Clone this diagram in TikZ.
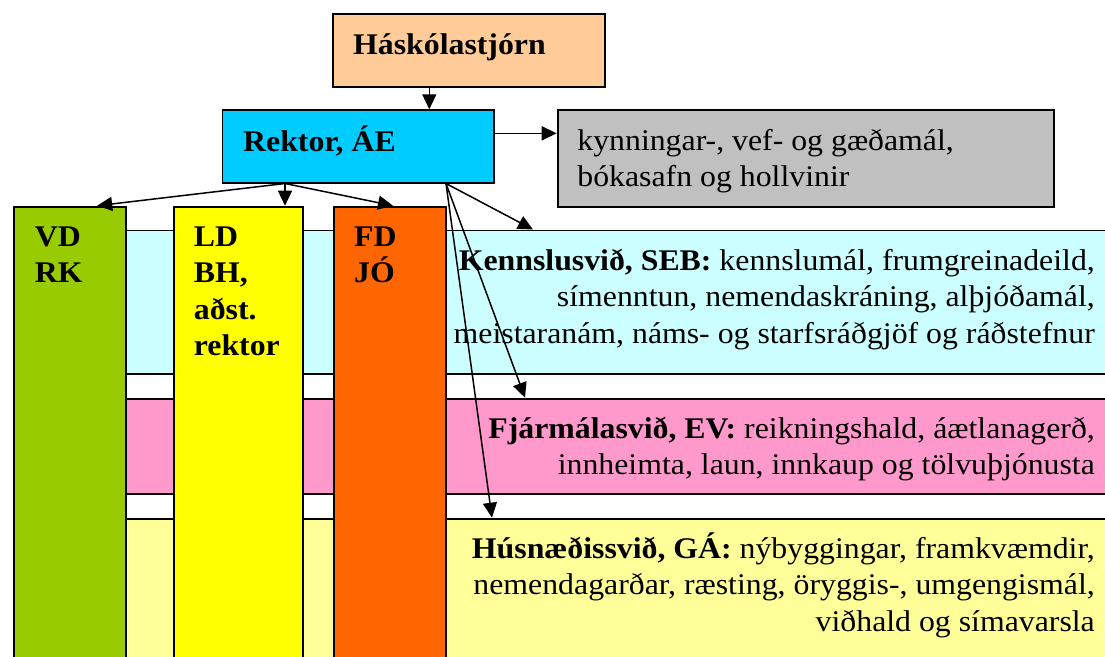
\documentclass[tikz,border=0pt]{standalone}
\usepackage{fontspec}
\setmainfont{Liberation Serif}[FakeStretch=1.06]
\usetikzlibrary{arrows.meta,calc}
\definecolor{peach}{HTML}{FFCC99}
\definecolor{rekcyan}{HTML}{00CCFF}
\definecolor{boxgray}{HTML}{C0C0C0}
\definecolor{colgreen}{HTML}{99CC00}
\definecolor{colyellow}{HTML}{FFFF00}
\definecolor{colorange}{HTML}{FF6600}
\definecolor{bandcyan}{HTML}{CCFFFF}
\definecolor{bandpink}{HTML}{FF99CC}
\definecolor{bandyellow}{HTML}{FFFF99}
\newcommand{\fl}{\rule{0pt}{30pt}}
\begin{document}
\begin{tikzpicture}[x=1pt,y=-1pt,
  box/.style={draw=black, line width=1.8pt, rectangle, inner sep=0pt, anchor=north west},
  txt/.style={inner sep=0pt, font=\fontsize{30}{36.5}\selectfont},
  txtb/.style={inner sep=0pt, font=\fontsize{30}{36.5}\selectfont\bfseries},
  arr/.style={line width=1.5pt, -{Triangle[length=15pt,width=14pt]}}]
\useasboundingbox (0,0) rectangle (1105,656);
\clip (0,0) rectangle (1105,656);
% bands
\node[box, fill=bandcyan, minimum width=1020pt, minimum height=143.5pt] (kenn) at (100,229.5) {};
\node[box, fill=bandpink, minimum width=1020pt, minimum height=95.6pt] (fjar) at (100,397.7) {};
\node[box, fill=bandyellow, minimum width=1020pt, minimum height=200pt] (hus) at (100,517.7) {};
\node[txt, anchor=north east, align=right] (kennt) at ($(kenn.north west)+(995,10.5)$)
  {\fl\textbf{Kennslusvið, SEB:} kennslumál, frumgreinadeild,\\ símenntun, nemendaskráning, alþjóðamál,\\ meistaranám, náms- og starfsráðgjöf og ráðstefnur};
\node[txt, anchor=north east, align=right] (fjart) at ($(fjar.north west)+(995,10.5)$)
  {\fl\textbf{Fjármálasvið, EV:} reikningshald, áætlanagerð,\\ innheimta, laun, innkaup og tölvuþjónusta};
\node[txt, anchor=north east, align=right] (hust) at ($(hus.north west)+(995,10.5)$)
  {\fl\textbf{Húsnæðissvið, GÁ:} nýbyggingar, framkvæmdir,\\ nemendagarðar, ræsting, öryggis-, umgengismál,\\ viðhald og símavarsla};
% columns
\node[box, fill=colgreen, minimum width=112.3pt, minimum height=500pt] (vd) at (12.7,205.7) {};
\node[box, fill=colyellow, minimum width=129pt, minimum height=500pt] (ld) at (172.7,205.7) {};
\node[box, fill=colorange, minimum width=112pt, minimum height=500pt] (fd) at (333,205.7) {};
\node[txtb, anchor=north west, align=left] (vdt) at ($(vd.north west)+(22,10.5)$) {\fl VD\\RK};
\node[txtb, anchor=north west, align=left] (ldt) at ($(ld.north west)+(21,10.5)$) {\fl LD\\BH,\\aðst.\\rektor};
\node[txtb, anchor=north west, align=left] (fdt) at ($(fd.north west)+(21,10.5)$) {\fl FD\\JÓ};
% top boxes
\node[box, fill=peach, minimum width=272pt, minimum height=72.4pt] (hs) at (332,13.3) {};
\node[box, fill=rekcyan, minimum width=271.8pt, minimum height=72.4pt] (rektor) at (221.5,109.3) {};
\node[box, fill=boxgray, minimum width=496pt, minimum height=96.4pt] (gray) at (556.7,109.3) {};
\node[txtb, anchor=north west, align=left] (hst) at ($(hs.north west)+(21,10.5)$) {\fl Háskólastjórn};
\node[txtb, anchor=north west, align=left] (rektort) at ($(rektor.north west)+(21.5,12)$) {\fl Rektor, ÁE};
\node[txt, anchor=north west, align=left] (grayt) at ($(gray.north west)+(20.5,10.5)$) {\fl kynningar-, vef- og gæðamál,\\ bókasafn og hollvinir};
% connectors
\coordinate (hsout) at ($(hs.south west)+(97.3,0)$);
\draw[arr] (hsout) -- (hsout |- rektor.north);
\coordinate (rkr) at ($(rektor.north east)+(0,24)$);
\draw[arr] (rkr) -- (rkr -| gray.west);
\coordinate (rkl) at ($(rektor.south west)+(63.5,0)$);
\draw[arr] (rkl) -- ($(vd.north west)+(84.5,0)$);
\draw[arr] (rkl) -- (rkl |- ld.north);
\draw[arr] (rkl) -- ($(fd.north west)+(60,0)$);
\coordinate (rkm) at ($(rektor.south west)+(224.5,0)$);
\draw[arr] (rkm) -- ($(kenn.north west)+(433,0)$);
\draw[arr] (rkm) -- ($(fjar.north west)+(425,0)$);
\draw[arr] (rkm) -- ($(hus.north west)+(392,0)$);
\end{tikzpicture}
\end{document}
